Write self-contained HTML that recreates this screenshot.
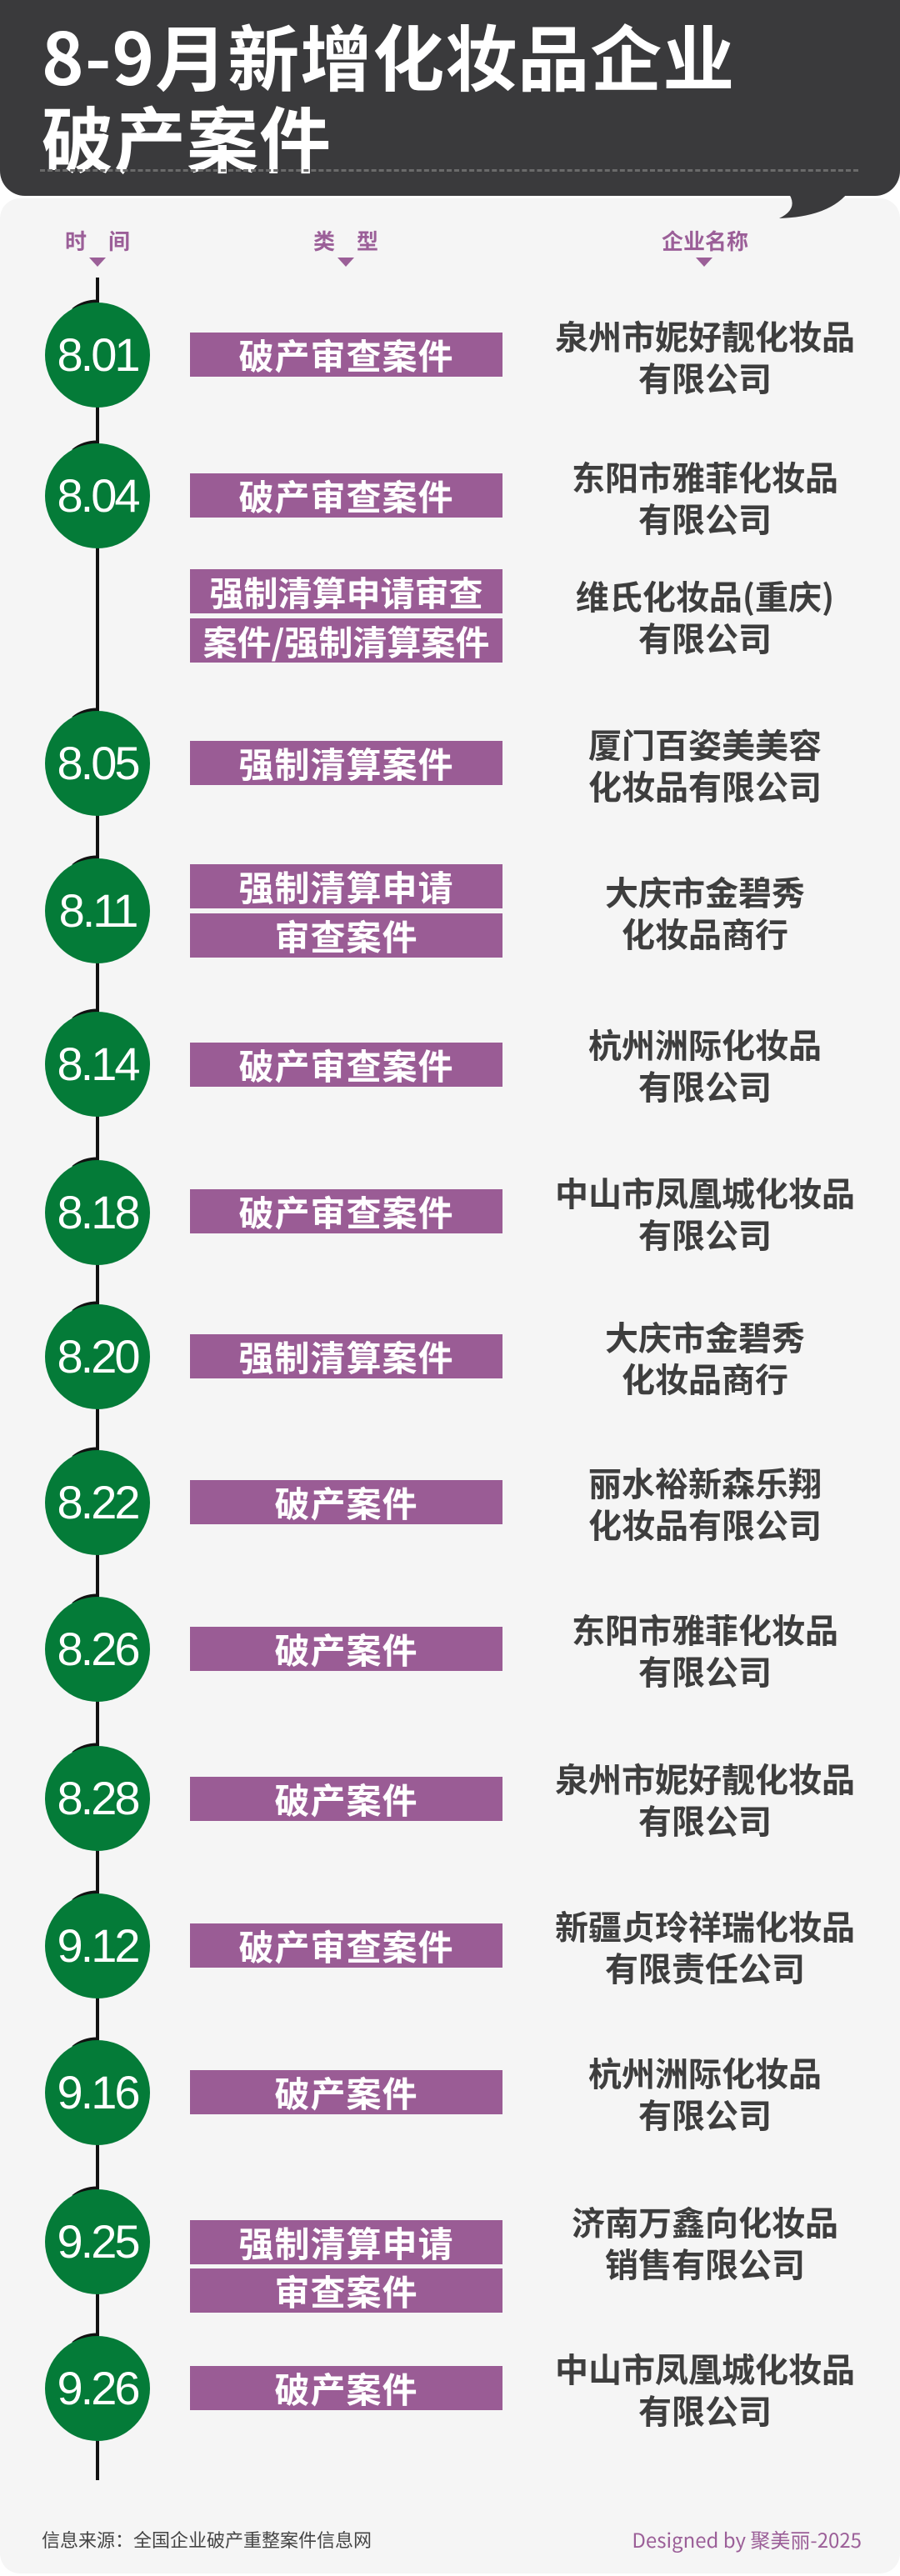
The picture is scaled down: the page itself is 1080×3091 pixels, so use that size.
<!DOCTYPE html>
<html><head><meta charset="utf-8"><style>
*{margin:0;padding:0;box-sizing:border-box}
body{width:1080px;height:3091px;background:#fff;position:relative;overflow:hidden;font-family:"Liberation Sans","Noto Sans CJK SC",sans-serif}
.card{position:absolute;left:0;top:238px;width:1080px;height:2850px;background:#f5f5f5;border-radius:24px}
.hdr{position:absolute;left:0;top:0;width:1080px;height:235px;background:#3a3a3c;border-radius:0 0 30px 30px}
.t{position:absolute;left:50px;color:#fff;font-weight:bold;font-size:86px;letter-spacing:1px;line-height:1;font-family:"Noto Sans CJK SC",sans-serif}
.dash{position:absolute;left:48px;top:203px;width:982px;border-top:3px dashed #6a6a6a}
.lab{position:absolute;color:#9b5f98;font-weight:bold;font-size:26px;text-align:center;width:200px;line-height:1;font-family:"Noto Sans CJK SC",sans-serif}
.tri{position:absolute;width:0;height:0;border-left:10px solid transparent;border-right:10px solid transparent;border-top:11px solid #9b5f98}
.c{position:absolute;left:54px;width:126px;height:126px;border-radius:50%;background:#047b38;color:#fff;font-size:56px;letter-spacing:-3px;text-align:center;line-height:126px}
.b{position:absolute;left:228px;width:375px;height:53px;background:#9a5c95;color:#fff;font-weight:bold;font-size:42px;text-align:center;line-height:53px;font-family:"Noto Sans CJK SC",sans-serif;white-space:nowrap;letter-spacing:1px}
.n{position:absolute;left:646px;width:400px;text-align:center;color:#3e3e3e;font-weight:bold;font-size:40px;line-height:50px;font-family:"Noto Sans CJK SC",sans-serif}
.f{position:absolute;top:3033px;font-size:22px;line-height:28px;font-family:"Noto Sans CJK SC",sans-serif}
</style></head><body>
<div class="card"></div>
<svg style="position:absolute;left:0;top:0" width="1080" height="300"><path d="M945 230 Q960 250 935 262 Q1000 260 1022 225 Z" fill="#3a3a3c"/></svg>
<div class="hdr"></div>
<div class="t" style="top:22px">8-9月新增化妆品企业</div>
<div class="t" style="top:120px">破产案件</div>
<div class="dash"></div>

<div class="lab" style="left:17px;top:276px">时　间</div>
<div class="lab" style="left:315px;top:276px">类　型</div>
<div class="lab" style="left:746px;top:276px">企业名称</div>
<div class="tri" style="left:107px;top:309px"></div>
<div class="tri" style="left:405px;top:309px"></div>
<div class="tri" style="left:835px;top:309px"></div>

<svg style="position:absolute;left:0;top:0" width="300" height="3091">
<line x1="117" y1="333" x2="117" y2="2976" stroke="#111" stroke-width="4"/>
<g fill="none" stroke="#111" stroke-width="5">
<path d="M88 372 Q100 362 117 362"/>
<path d="M88 541 Q100 531 117 531"/>
<path d="M88 862 Q100 852 117 852"/>
<path d="M88 1039 Q100 1029 117 1029"/>
<path d="M88 1223 Q100 1213 117 1213"/>
<path d="M88 1401 Q100 1391 117 1391"/>
<path d="M88 1574 Q100 1564 117 1564"/>
<path d="M88 1749 Q100 1739 117 1739"/>
<path d="M88 1925 Q100 1915 117 1915"/>
<path d="M88 2104 Q100 2094 117 2094"/>
<path d="M88 2281 Q100 2271 117 2271"/>
<path d="M88 2457 Q100 2447 117 2447"/>
<path d="M88 2636 Q100 2626 117 2626"/>
<path d="M88 2812 Q100 2802 117 2802"/>
</g></svg>

<div class="c" style="top:363px">8.01</div>
<div class="b" style="top:399px">破产审查案件</div>
<div class="n" style="top:377px">泉州市妮好靓化妆品<br>有限公司</div>

<div class="c" style="top:532px">8.04</div>
<div class="b" style="top:568px">破产审查案件</div>
<div class="n" style="top:546px">东阳市雅菲化妆品<br>有限公司</div>

<div class="b" style="top:683px;font-size:41px;letter-spacing:0">强制清算申请审查</div>
<div class="b" style="top:742px;font-size:41px;letter-spacing:0">案件/强制清算案件</div>
<div class="n" style="top:689px">维氏化妆品(重庆)<br>有限公司</div>

<div class="c" style="top:853px">8.05</div>
<div class="b" style="top:889px">强制清算案件</div>
<div class="n" style="top:867px">厦门百姿美美容<br>化妆品有限公司</div>

<div class="c" style="top:1030px">8.11</div>
<div class="b" style="top:1037px">强制清算申请</div>
<div class="b" style="top:1096px">审查案件</div>
<div class="n" style="top:1044px">大庆市金碧秀<br>化妆品商行</div>

<div class="c" style="top:1214px">8.14</div>
<div class="b" style="top:1251px">破产审查案件</div>
<div class="n" style="top:1227px">杭州洲际化妆品<br>有限公司</div>

<div class="c" style="top:1392px">8.18</div>
<div class="b" style="top:1427px">破产审查案件</div>
<div class="n" style="top:1405px">中山市凤凰城化妆品<br>有限公司</div>

<div class="c" style="top:1565px">8.20</div>
<div class="b" style="top:1601px">强制清算案件</div>
<div class="n" style="top:1578px">大庆市金碧秀<br>化妆品商行</div>

<div class="c" style="top:1740px">8.22</div>
<div class="b" style="top:1776px">破产案件</div>
<div class="n" style="top:1753px">丽水裕新森乐翔<br>化妆品有限公司</div>

<div class="c" style="top:1916px">8.26</div>
<div class="b" style="top:1952px">破产案件</div>
<div class="n" style="top:1929px">东阳市雅菲化妆品<br>有限公司</div>

<div class="c" style="top:2095px">8.28</div>
<div class="b" style="top:2132px">破产案件</div>
<div class="n" style="top:2108px">泉州市妮好靓化妆品<br>有限公司</div>

<div class="c" style="top:2272px">9.12</div>
<div class="b" style="top:2308px">破产审查案件</div>
<div class="n" style="top:2285px">新疆贞玲祥瑞化妆品<br>有限责任公司</div>

<div class="c" style="top:2448px">9.16</div>
<div class="b" style="top:2484px">破产案件</div>
<div class="n" style="top:2461px">杭州洲际化妆品<br>有限公司</div>

<div class="c" style="top:2627px">9.25</div>
<div class="b" style="top:2664px">强制清算申请</div>
<div class="b" style="top:2722px">审查案件</div>
<div class="n" style="top:2640px">济南万鑫向化妆品<br>销售有限公司</div>

<div class="c" style="top:2803px">9.26</div>
<div class="b" style="top:2839px">破产案件</div>
<div class="n" style="top:2816px">中山市凤凰城化妆品<br>有限公司</div>

<div class="f" style="left:50px;color:#444">信息来源：全国企业破产重整案件信息网</div>
<div class="f" style="right:46px;color:#9b5f98;font-size:24px">Designed by 聚美丽-2025</div>
</body></html>
